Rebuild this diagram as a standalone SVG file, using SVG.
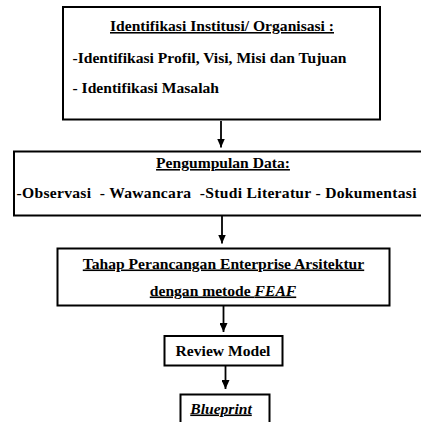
<svg xmlns="http://www.w3.org/2000/svg" width="421" height="422" viewBox="0 0 421 422">
  <style>
    .box { fill: #ffffff; stroke: #000000; stroke-width: 2; }
    .t { font-family: 'Liberation Serif', 'Times New Roman', serif; font-weight: bold; font-size: 15.6px; fill: #000000; }
    .c { text-anchor: middle; }
    .u { text-decoration: underline; }
    .link { stroke: #000000; stroke-width: 1.8; fill: none; marker-end: url(#arrow); }
  </style>
  <defs>
    <marker id="arrow" markerWidth="9" markerHeight="8" refX="9" refY="4" orient="auto" markerUnits="userSpaceOnUse" viewBox="0 0 9 8">
      <path d="M0,0 L9,4 L0,8 Z" fill="#000000"/>
    </marker>
  </defs>
  <rect width="421" height="422" fill="#ffffff"/>

  <g id="connectors">
    <line class="link" x1="221" y1="121" x2="221" y2="147.5"/>
    <line class="link" x1="222" y1="216" x2="222" y2="243.5"/>
    <line class="link" x1="223.5" y1="306" x2="223.5" y2="332"/>
    <line class="link" x1="225.5" y1="366" x2="225.5" y2="389"/>
  </g>

  <g id="identifikasi">
    <rect class="box" x="63" y="7" width="317" height="112.5"/>
    <text class="t c u" x="222" y="31">Identifikasi Institusi/ Organisasi :</text>
    <text class="t" x="72.5" y="63.3">-Identifikasi Profil, Visi, Misi dan Tujuan</text>
    <text class="t" x="72.5" y="92.5">- Identifikasi Masalah</text>
  </g>

  <g id="pengumpulan">
    <rect class="box" x="14" y="151.5" width="412" height="64"/>
    <text class="t c u" x="223" y="168">Pengumpulan Data:</text>
    <text class="t" x="16.5" y="198" xml:space="preserve" textLength="400" lengthAdjust="spacing">-Observasi  - Wawancara  -Studi Literatur - Dokumentasi</text>
  </g>

  <g id="perancangan">
    <rect class="box" x="57.5" y="248.5" width="332" height="57"/>
    <text class="t c u" x="223.5" y="268.5">Tahap Perancangan Enterprise Arsitektur</text>
    <text class="t c u" x="223" y="295.5">dengan metode <tspan font-style="italic">FEAF</tspan></text>
  </g>

  <g id="review">
    <rect class="box" x="164.5" y="336" width="118" height="29.5"/>
    <text class="t c" x="223" y="355.5">Review Model</text>
  </g>

  <g id="blueprint">
    <rect class="box" x="180.5" y="394.5" width="89" height="40"/>
    <text class="t c u" x="221" y="413.5" font-style="italic">Blueprint</text>
  </g>
</svg>
